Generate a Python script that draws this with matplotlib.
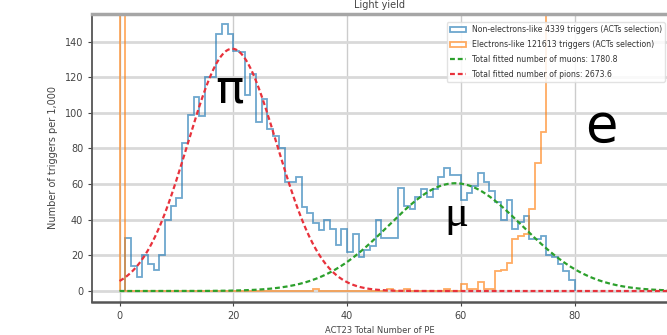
import numpy as np
import matplotlib
matplotlib.use("Agg")
import matplotlib.pyplot as plt
from matplotlib.patches import Patch
from matplotlib.lines import Line2D

# non-electron-like triggers (ACTs selection), 1 PE bins starting at PE = 1
blue_start = 1
blue_counts = [30, 14, 8, 20, 15, 12, 20, 40, 48, 52,
               83, 99, 109, 98, 120, 120, 144, 150, 144, 135,
               134, 110, 122, 95, 108, 91, 87, 80, 61, 61,
               64, 47, 44, 38, 34, 40, 35, 26, 35, 22,
               32, 19, 23, 25, 40, 30, 30, 30, 58, 48,
               46, 53, 57, 53, 57, 64, 69, 65, 65, 51,
               55, 59, 66, 61, 56, 50, 40, 51, 35, 39,
               42, 29, 29, 31, 20, 19, 15, 11, 6]

# electron-like triggers, 1 PE bins starting at PE = 0 (bin 0 and the e peak go off scale)
orange_counts = [900, 0, 0, 0, 0, 0, 0, 0, 0, 0,
                 0, 0, 0, 0, 0, 0, 0, 0, 0, 0,
                 0, 0, 0, 0, 0, 0, 0, 0, 0, 0,
                 0, 0, 0, 0, 1, 0, 0, 0, 0, 0,
                 0, 0, 0, 0, 0, 0, 0, 1, 0, 0,
                 1, 0, 0, 0, 0, 0, 0, 1, 0, 0,
                 4, 1, 1, 5, 1, 1, 11, 12, 16, 29,
                 31, 32, 46, 72, 89, 210, 380, 560, 760, 930,
                 1080, 1190, 1250, 1270, 1240, 1170, 1060, 920, 770, 620,
                 520, 450, 400, 360, 330, 300, 280]

# gaussian fits (amplitude per bin, mean, sigma)
pion_fit = (136.0, 19.8, 7.84)
muon_fit = (60.5, 59.0, 11.74)
n_muons = 1780.8
n_pions = 2673.6
n_nonel = 4339
n_el = 121613

blue_edges = np.arange(blue_start, blue_start + len(blue_counts) + 1)
orange_edges = np.arange(0, len(orange_counts) + 1)

fig = plt.figure(figsize=(6.67, 3.35), dpi=100)
ax = fig.add_axes([0.1384, 0.0994, 0.8616, 0.8588])

ax.stairs(blue_counts, blue_edges, color='tab:blue', alpha=0.65, lw=1.3)
ax.stairs(orange_counts, orange_edges, color='tab:orange', alpha=0.65, lw=1.3)

x = np.linspace(0, 100, 500)
def gauss(x, a, mu, sig):
    return a * np.exp(-(x - mu) ** 2 / (2 * sig ** 2))

ax.plot(x, gauss(x, *muon_fit), color='tab:green', ls='--', lw=1.6, dashes=(2.2, 1.3))
ax.plot(x, gauss(x, *pion_fit), color='#e8323c', ls='--', lw=1.6, dashes=(2.2, 1.3))

ax.set_xlim(-4.78, 96.2)
ax.set_ylim(-6.0, 155.5)
ax.set_xticks([0, 20, 40, 60, 80])
ax.set_yticks(np.arange(0, 141, 20))

ax.yaxis.grid(True, color='#d9d9d9', lw=2.0)
ax.xaxis.grid(True, color='#cccccc', lw=1.0)
ax.set_axisbelow(True)

ax.spines['right'].set_visible(False)
ax.spines['top'].set_color('#a6a6a6')
ax.spines['top'].set_linewidth(2.5)
ax.spines['left'].set_color('#555555')
ax.spines['left'].set_linewidth(1.3)
ax.spines['bottom'].set_color('#555555')
ax.spines['bottom'].set_linewidth(1.8)
ax.tick_params(labelsize=7, colors='#444444', length=3, width=0.8)

ax.set_title('Light yield', fontsize=7, color='#444444', pad=4)
ax.set_ylabel('Number of triggers per 1,000', fontsize=7, color='#444444', labelpad=5)
ax.set_xlabel('ACT23 Total Number of PE', fontsize=6, color='#444444', labelpad=4)

handles = [Patch(facecolor='white', edgecolor='tab:blue', alpha=0.65, lw=1.3),
           Patch(facecolor='white', edgecolor='tab:orange', alpha=0.65, lw=1.3),
           Line2D([], [], color='tab:green', ls='--', lw=1.6, dashes=(2.2, 1.3)),
           Line2D([], [], color='#e8323c', ls='--', lw=1.6, dashes=(2.2, 1.3))]
labels = ['Non-electrons-like %d triggers (ACTs selection)' % n_nonel,
          'Electrons-like %d triggers (ACTs selection)' % n_el,
          'Total fitted number of muons: %.1f' % n_muons,
          'Total fitted number of pions: %.1f' % n_pions]
leg = ax.legend(handles, labels, loc='upper right', bbox_to_anchor=(0.9965, 0.972),
                borderaxespad=0, fontsize=5.6, handlelength=2.0, framealpha=0.85,
                edgecolor='#dddddd', labelspacing=0.75)
for t in leg.get_texts():
    t.set_color('#333333')

# particle labels
ax.text(19.4, 105.6, 'π', fontsize=34, ha='center', va='baseline')
ax.text(59.2, 36.5, 'μ', fontsize=32, ha='center', va='baseline', family='Liberation Serif')
ax.text(84.7, 83.7, 'e', fontsize=38, ha='center', va='baseline')

fig.savefig('out.png', dpi=100)
